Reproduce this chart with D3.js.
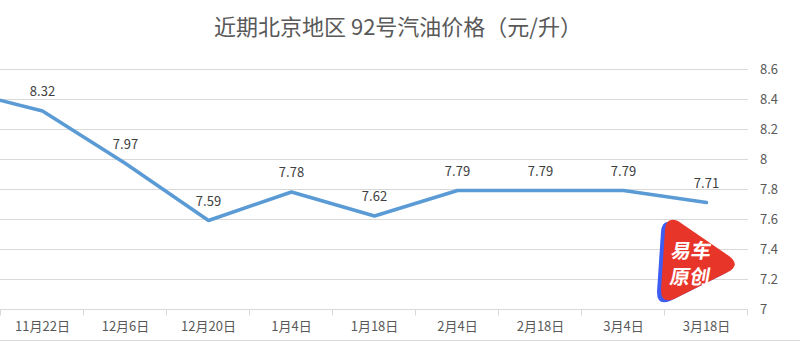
<!DOCTYPE html>
<html>
<head>
<meta charset="utf-8">
<script src="https://cdn.jsdelivr.net/npm/d3@7/dist/d3.min.js"></script>
<style>
  html, body { margin: 0; padding: 0; background: #fff; }
  svg { display: block; }
</style>
</head>
<body>
<svg id="chart" width="800" height="342"></svg>
<script>
// ---- data ----
const title = "近期北京地区 92号汽油价格（元/升）";
const categories = ["11月22日", "12月6日", "12月20日", "1月4日", "1月18日", "2月4日", "2月18日", "3月4日", "3月18日"];
const prices = [8.32, 7.97, 7.59, 7.78, 7.62, 7.79, 7.79, 7.79, 7.71];
const priorPrice = [8.46]; // previous adjustment, cut off at the left edge
const yTicks = [7, 7.2, 7.4, 7.6, 7.8, 8, 8.2, 8.4, 8.6];

// ---- layout ----
const svg = d3.select("#chart");
const W = 800, H = 342;
const plot = { left: 1, right: 748, top: 69, bottom: 309 };
const font = "'Noto Sans CJK SC', 'Noto Sans', sans-serif";

const x = d3.scaleBand().domain(categories).range([plot.left, plot.right]).paddingInner(0).paddingOuter(0);
const y = d3.scaleLinear().domain([7, 8.6]).range([plot.bottom, plot.top]);
const bw = x.bandwidth();

// title
svg.append("text")
  .attr("x", 398).attr("y", 35)
  .attr("text-anchor", "middle")
  .attr("font-family", font)
  .attr("font-size", 22)
  .attr("fill", "#595959")
  .text(title);

// gridlines
svg.append("g").selectAll("line").data(yTicks.filter(t => t > 7)).join("line")
  .attr("x1", plot.left - 1).attr("x2", plot.right)
  .attr("y1", d => Math.round(y(d)) + 0.5).attr("y2", d => Math.round(y(d)) + 0.5)
  .attr("stroke", "#d9d9d9").attr("stroke-width", 1);

// y axis (right, labels only)
const yAxis = d3.axisRight(y).tickValues(yTicks).tickSize(0).tickPadding(0)
  .tickFormat(d => d3.format("")(+d.toFixed(1)));
const gy = svg.append("g").attr("transform", `translate(760,0)`).call(yAxis);
gy.select(".domain").remove();
gy.selectAll("text").attr("font-family", font).attr("font-size", 13).attr("fill", "#595959")
  .attr("text-anchor", "start").attr("dy", "0.35em").attr("x", 0);

// x axis
const gx = svg.append("g").attr("transform", `translate(0,${plot.bottom + 0.5})`);
gx.append("line").attr("x1", plot.left - 1).attr("x2", plot.right).attr("stroke", "#d9d9d9");
const bounds = categories.map(c => x(c)).concat([plot.right]);
gx.selectAll("line.tick").data(bounds).join("line").attr("class", "tick")
  .attr("x1", d => Math.round(d) - 0.5).attr("x2", d => Math.round(d) - 0.5)
  .attr("y1", 0).attr("y2", 6).attr("stroke", "#d9d9d9");
gx.selectAll("text").data(categories).join("text")
  .attr("x", d => x(d) + bw / 2).attr("y", 21)
  .attr("text-anchor", "middle")
  .attr("font-family", font).attr("font-size", 13).attr("fill", "#595959")
  .text(d => d);

// bottom frame line
svg.append("line").attr("x1", 0).attr("x2", W).attr("y1", 340.5).attr("y2", 340.5)
  .attr("stroke", "#d9d9d9");

// clip
svg.append("clipPath").attr("id", "clip").append("rect")
  .attr("x", 0).attr("y", 0).attr("width", plot.right).attr("height", H);

// line series (including the cut-off previous point)
const pts = priorPrice.map((v, i) => [x(categories[0]) + bw / 2 - bw * (priorPrice.length - i), y(v)])
  .concat(prices.map((v, i) => [x(categories[i]) + bw / 2, y(v)]));
svg.append("path")
  .attr("clip-path", "url(#clip)")
  .attr("d", d3.line()(pts))
  .attr("fill", "none")
  .attr("stroke", "#5b9bd5")
  .attr("stroke-width", 3.5)
  .attr("stroke-linejoin", "round")
  .attr("stroke-linecap", "round");

// value labels
svg.append("g").selectAll("text").data(prices).join("text")
  .attr("x", (d, i) => x(categories[i]) + bw / 2)
  .attr("y", d => y(d) - 15)
  .attr("text-anchor", "middle")
  .attr("font-family", font).attr("font-size", 13).attr("fill", "#404040")
  .text(d => d.toFixed(2));

// watermark logo (rounded play-triangle)
const logo = svg.append("g");
const tri = "M678,221 Q666,216 665,230 L661,290 Q661,304 674,299 L728,272 Q741,265 729,256 Z";
logo.append("path").attr("d", tri).attr("fill", "#3d5cf2").attr("transform", "translate(-4,2)");
logo.append("path").attr("d", tri).attr("fill", "#e8352a");
logo.append("text").attr("x", 690).attr("y", 258).attr("text-anchor", "middle")
  .attr("font-family", font).attr("font-weight", "bold").attr("font-size", 20)
  .attr("fill", "#fff").attr("transform", "translate(690,258) skewX(-10) translate(-690,-258)").text("易车");
logo.append("text").attr("x", 689).attr("y", 284).attr("text-anchor", "middle")
  .attr("font-family", font).attr("font-weight", "bold").attr("font-size", 20)
  .attr("fill", "#fff").attr("transform", "translate(689,284) skewX(-10) translate(-689,-284)").text("原创");
</script>
</body>
</html>
